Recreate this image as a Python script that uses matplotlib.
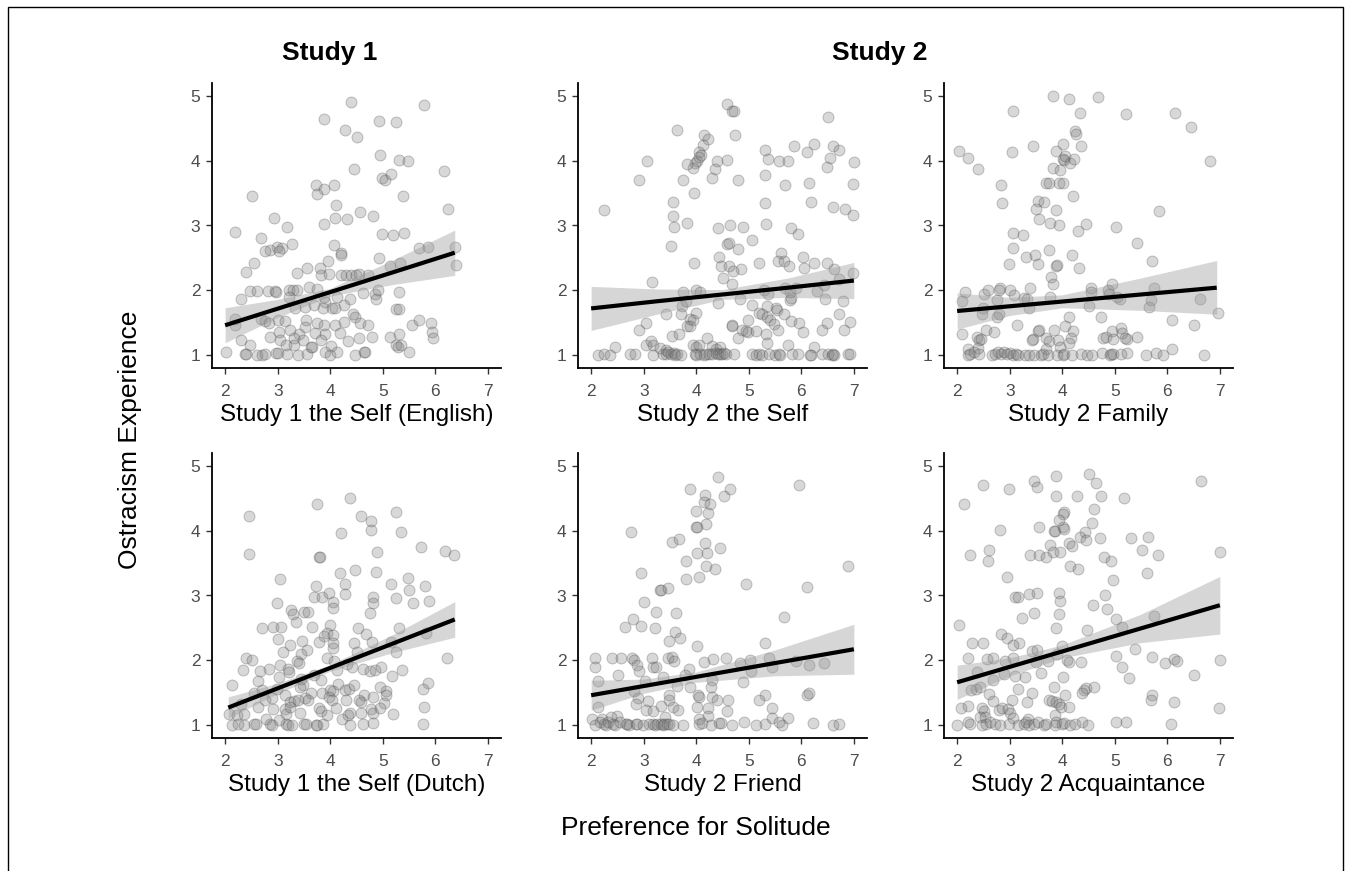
import numpy as np
import matplotlib
matplotlib.use("Agg")
import matplotlib.pyplot as plt
from matplotlib.patches import Rectangle

plt.rcParams['font.family'] = ['Liberation Sans', 'DejaVu Sans']

# ---- data ----
labels = ["Study 1 the Self (English)", "Study 2 the Self", "Study 2 Family",
          "Study 1 the Self (Dutch)", "Study 2 Friend", "Study 2 Acquaintance"]

# panel 1: Study 1 the Self (English)
p1_x = [4.39, 5.79, 3.89, 4.29, 4.92, 5.26, 4.51, 4.94, 5.30, 5.48, 6.17, 4.45, 4.98, 5.04, 5.16,
        3.72, 3.89, 4.07, 3.74, 5.39, 2.51, 4.11, 6.24, 4.56, 2.93, 4.10, 4.31, 4.82, 3.89, 3.18,
        2.19, 4.99, 5.19, 5.41, 2.69, 3.27, 4.07, 2.99, 2.85, 2.75, 3.09, 3.02, 5.68, 5.86, 6.38,
        6.39, 4.20, 4.20, 4.92, 2.54, 3.95, 5.13, 5.32, 3.80, 3.55, 3.37, 2.39, 3.82, 3.98, 4.20,
        4.30, 4.39, 4.49, 4.54, 4.72, 2.47, 2.61, 2.81, 2.94, 2.97, 3.22, 3.30, 3.36, 3.60, 3.75,
        4.63, 4.85, 4.87, 4.90, 5.31, 2.31, 3.22, 3.89, 4.13, 4.38, 3.91, 4.26, 3.52, 3.33, 3.70,
        3.86, 4.03, 4.10, 4.43, 5.25, 5.31, 4.47, 4.56, 2.19, 2.68, 2.75, 2.84, 3.00, 3.13, 3.53,
        3.74, 4.27, 4.71, 5.55, 5.69, 5.91, 2.18, 3.24, 3.52, 3.89, 4.10, 3.03, 3.40, 3.71, 3.91,
        4.18, 2.85, 3.31, 4.54, 4.80, 5.14, 5.31, 5.93, 5.96, 2.30, 3.04, 3.49, 3.82, 4.33, 2.48,
        3.16, 3.32, 3.63, 3.66, 4.01, 5.25, 5.29, 5.35, 2.02, 2.38, 2.40, 2.61, 2.71, 2.76, 2.97,
        3.00, 3.18, 3.38, 3.55, 3.91, 4.00, 4.13, 4.48, 4.65, 4.67, 5.49]
p1_y = [4.91, 4.86, 4.65, 4.48, 4.62, 4.60, 4.36, 4.09, 4.01, 4.00, 3.84, 3.87, 3.74, 3.71, 3.79,
        3.63, 3.57, 3.63, 3.49, 3.45, 3.46, 3.32, 3.26, 3.21, 3.11, 3.12, 3.10, 3.14, 3.02, 2.97,
        2.90, 2.87, 2.85, 2.89, 2.80, 2.72, 2.70, 2.67, 2.62, 2.60, 2.66, 2.61, 2.65, 2.67, 2.67,
        2.39, 2.58, 2.54, 2.50, 2.42, 2.45, 2.37, 2.42, 2.35, 2.35, 2.26, 2.28, 2.23, 2.25, 2.24,
        2.24, 2.24, 2.24, 2.25, 2.23, 1.99, 1.99, 1.99, 1.99, 1.97, 2.00, 2.01, 2.00, 2.05, 2.02,
        1.96, 1.95, 1.87, 2.01, 1.97, 1.87, 1.89, 1.90, 1.90, 1.87, 1.82, 1.78, 1.74, 1.73, 1.77,
        1.73, 1.73, 1.73, 1.64, 1.71, 1.71, 1.59, 1.49, 1.55, 1.55, 1.53, 1.50, 1.54, 1.53, 1.54,
        1.50, 1.51, 1.46, 1.46, 1.54, 1.50, 1.46, 1.38, 1.43, 1.47, 1.46, 1.36, 1.33, 1.34, 1.33,
        1.34, 1.28, 1.27, 1.27, 1.28, 1.28, 1.32, 1.35, 1.26, 1.23, 1.23, 1.23, 1.23, 1.21, 1.16,
        1.15, 1.15, 1.13, 1.13, 1.14, 1.15, 1.13, 1.15, 1.04, 1.02, 1.02, 1.00, 1.00, 1.02, 1.03,
        1.03, 1.01, 1.00, 1.02, 1.04, 1.00, 1.04, 1.00, 1.04, 1.04, 1.04]

# panel 2: Study 2 the Self
p2_x = [4.58, 4.68, 4.71, 6.50, 3.64, 4.15, 4.22, 4.12, 4.06, 4.10, 4.73, 5.30, 5.86, 6.24, 6.10,
        6.60, 6.71, 6.55, 6.48, 4.01, 3.98, 4.05, 3.93, 3.82, 3.06, 4.39, 4.59, 5.36, 5.58, 5.74,
        7.00, 4.36, 4.30, 3.74, 4.79, 2.92, 5.30, 5.69, 6.15, 6.99, 3.96, 3.56, 5.30, 6.19, 6.61,
        6.84, 6.99, 2.25, 3.55, 3.57, 3.82, 4.42, 4.65, 4.89, 5.32, 5.80, 5.93, 5.07, 4.59, 4.62,
        4.79, 3.52, 5.61, 4.43, 6.04, 5.56, 5.67, 5.77, 3.95, 5.20, 6.24, 6.49, 4.48, 4.63, 4.85,
        4.70, 6.06, 6.63, 6.98, 4.51, 3.16, 4.68, 6.72, 4.00, 4.07, 3.74, 5.29, 5.36, 5.69, 5.79,
        5.90, 6.29, 6.44, 5.78, 5.81, 4.84, 6.45, 6.80, 4.42, 3.72, 3.80, 5.07, 5.34, 5.51, 5.54,
        5.67, 3.42, 3.71, 5.19, 5.26, 5.34, 5.41, 5.48, 6.71, 3.99, 3.89, 3.93, 3.82, 3.88, 3.05,
        4.99, 5.81, 5.95, 6.48, 6.92, 4.68, 4.69, 2.92, 3.54, 3.67, 4.20, 4.87, 4.94, 4.98, 5.14,
        5.55, 6.04, 6.39, 6.81, 4.80, 5.33, 5.35, 5.74, 6.24, 2.46, 3.05, 3.13, 3.18, 3.31, 3.43,
        3.94, 3.99, 4.05, 4.30, 4.37, 4.45,
        2.14, 2.25, 2.36, 2.74, 2.83, 3.17, 3.36, 3.42, 3.46, 3.52, 3.57, 3.60, 3.64, 3.71, 3.97,
        4.00, 4.08, 4.15, 4.19, 4.24, 4.30, 4.37, 4.42, 4.46, 4.49, 4.53, 4.56, 4.72, 5.06, 5.13,
        5.20, 5.25, 5.38, 5.50, 5.58, 5.60, 5.82, 5.93, 6.16, 6.19, 6.39, 6.50, 6.58, 6.61, 6.63,
        6.89, 6.92]
p2_y = [4.87, 4.76, 4.76, 4.67, 4.47, 4.40, 4.33, 4.25, 4.13, 4.09, 4.40, 4.16, 4.23, 4.26, 4.14,
        4.22, 4.17, 4.04, 3.90, 4.00, 3.96, 4.05, 3.89, 3.95, 4.00, 3.99, 4.01, 4.03, 3.99, 3.99,
        3.98, 3.87, 3.74, 3.71, 3.71, 3.70, 3.78, 3.62, 3.66, 3.64, 3.50, 3.37, 3.34, 3.37, 3.29,
        3.25, 3.16, 3.24, 3.15, 2.97, 3.04, 2.96, 3.01, 2.97, 3.02, 2.96, 2.87, 2.78, 2.72, 2.73,
        2.63, 2.68, 2.57, 2.52, 2.52, 2.45, 2.45, 2.38, 2.42, 2.42, 2.42, 2.42, 2.38, 2.37, 2.33,
        2.29, 2.35, 2.33, 2.26, 2.19, 2.13, 2.09, 2.17, 2.00, 1.98, 1.98, 2.01, 1.95, 2.03, 1.98,
        2.03, 1.99, 2.08, 1.85, 1.88, 1.86, 1.86, 1.84, 1.81, 1.76, 1.83, 1.78, 1.76, 1.73, 1.69,
        1.64, 1.64, 1.64, 1.65, 1.64, 1.58, 1.54, 1.48, 1.64, 1.65, 1.56, 1.54, 1.45, 1.45, 1.50,
        1.54, 1.53, 1.50, 1.49, 1.51, 1.47, 1.45, 1.38, 1.29, 1.32, 1.26, 1.38, 1.37, 1.35, 1.37,
        1.39, 1.36, 1.39, 1.38, 1.26, 1.32, 1.19, 1.16, 1.13, 1.13, 1.15, 1.22, 1.15, 1.11, 1.08,
        1.15, 1.12, 1.15, 1.14, 1.10, 1.13,
        1.00, 1.02, 1.00, 1.02, 1.02, 1.00, 1.02, 1.01, 1.04, 1.02, 1.03, 1.00, 1.02, 1.00, 1.02,
        1.00, 1.02, 1.00, 1.02, 1.01, 1.02, 1.03, 1.02, 1.01, 1.02, 1.03, 1.02, 1.02, 1.02, 1.00,
        1.02, 1.00, 1.02, 1.00, 1.02, 1.00, 1.02, 1.02, 1.00, 1.00, 1.02, 1.02, 1.00, 1.02, 1.00,
        1.02, 1.02]

# panel 3: Study 2 Family
p3_x = [3.82, 4.13, 4.68, 3.07, 4.34, 5.21, 6.15, 6.46, 4.24, 4.27, 2.03, 2.20, 2.39, 3.05, 3.44,
        3.89, 4.01, 4.35, 4.01, 4.03, 4.06, 4.14, 4.22, 6.81, 3.83, 3.96, 2.83, 2.85, 3.70, 3.74,
        3.93, 4.02, 4.21, 3.54, 3.51, 3.65, 3.88, 5.85, 3.56, 3.77, 3.94, 4.46, 5.03, 4.30, 3.07,
        3.26, 5.42, 3.07, 3.31, 3.48, 3.75, 4.19, 3.54, 2.99, 3.88, 3.90, 4.31, 5.71, 3.79, 3.83,
        2.15, 2.51, 2.58, 2.81, 2.80, 3.01, 3.08, 3.28, 3.33, 3.38, 3.76, 4.55, 4.54, 4.51, 4.87,
        4.89, 4.95, 5.04, 5.09, 5.74, 5.69, 5.66, 6.62, 6.96, 2.10, 2.76, 2.49, 2.48, 2.75, 2.79,
        3.37, 4.13, 4.74, 6.08, 6.51, 3.13, 4.05, 2.55, 2.71, 3.53, 3.56, 3.84, 4.21, 4.94, 5.12,
        5.14, 5.23, 5.19, 5.43, 2.09, 2.38, 2.42, 2.45, 3.44, 3.42, 3.69, 3.75, 3.92, 4.16, 4.13,
        4.78, 4.83, 4.97, 6.08, 2.20, 2.40, 3.69, 3.95,
        2.21, 2.25, 2.33, 2.42, 2.66, 2.73, 2.78, 2.83, 2.90, 2.95, 3.01, 3.07, 3.12, 3.16, 3.29,
        3.37, 3.46, 3.59, 3.64, 3.72, 3.91, 4.02, 4.03, 4.19, 4.35, 4.47, 4.57, 4.76, 4.90, 4.92,
        4.97, 5.11, 5.24, 5.59, 5.78, 5.91, 6.70]
p3_y = [5.00, 4.96, 4.99, 4.77, 4.74, 4.72, 4.73, 4.52, 4.46, 4.41, 4.15, 4.04, 3.87, 4.13, 4.22,
        4.15, 4.26, 4.22, 4.03, 4.01, 4.08, 3.97, 4.02, 4.00, 3.89, 3.85, 3.63, 3.34, 3.66, 3.66,
        3.66, 3.66, 3.46, 3.38, 3.26, 3.37, 3.24, 3.22, 3.10, 3.04, 3.01, 3.03, 2.97, 2.91, 2.88,
        2.86, 2.73, 2.66, 2.51, 2.54, 2.62, 2.54, 2.41, 2.40, 2.37, 2.39, 2.35, 2.45, 2.21, 2.10,
        1.97, 1.95, 2.01, 2.03, 2.00, 2.00, 1.92, 1.88, 1.87, 2.03, 1.89, 2.03, 1.98, 1.76, 2.00,
        1.95, 2.09, 1.89, 1.87, 2.04, 1.85, 1.74, 1.87, 1.65, 1.84, 1.85, 1.72, 1.63, 1.58, 1.64,
        1.73, 1.59, 1.59, 1.54, 1.46, 1.47, 1.45, 1.38, 1.36, 1.37, 1.38, 1.39, 1.37, 1.37, 1.41,
        1.34, 1.24, 1.26, 1.28, 1.32, 1.28, 1.23, 1.24, 1.24, 1.23, 1.26, 1.21, 1.23, 1.26, 1.19,
        1.26, 1.28, 1.24, 1.10, 1.09, 1.11, 1.09, 1.13,
        1.00, 1.02, 1.04, 1.02, 1.00, 1.02, 1.04, 1.02, 1.04, 1.02, 1.03, 1.00, 1.02, 1.00, 1.00,
        1.00, 1.00, 1.00, 1.02, 1.00, 1.00, 1.00, 1.02, 1.00, 1.02, 1.00, 1.00, 1.03, 1.00, 1.02,
        1.02, 1.02, 1.03, 1.00, 1.03, 1.00, 1.00]

# panel 4: Study 1 the Self (Dutch)
p4_x = [4.37, 3.74, 2.46, 4.58, 5.25, 4.78, 4.78, 4.20, 5.35, 2.45, 3.78, 3.81, 4.89, 5.73, 6.18,
        6.36, 4.18, 4.47, 4.87, 3.04, 5.48, 3.73, 4.29, 5.16, 5.80, 5.49, 3.70, 3.85, 3.98, 4.05,
        4.05, 4.29, 4.82, 4.81, 2.98, 5.26, 5.57, 5.88, 3.26, 3.30, 3.51, 3.57, 4.76, 3.34, 2.71,
        2.92, 3.07, 3.65, 3.99, 4.53, 5.30, 3.01, 3.93, 3.88, 4.05, 4.68, 5.82, 3.46, 3.79, 4.05,
        4.05, 4.46, 4.80, 3.24, 3.55, 5.16, 3.10, 3.44, 4.51, 5.25, 2.39, 2.51, 2.84, 2.34, 2.67,
        3.04, 3.20, 3.22, 3.36, 3.41, 3.93, 4.08, 4.13, 4.31, 4.41, 4.63, 4.76, 4.85, 4.96, 5.36,
        6.22, 2.13, 2.63, 3.03, 3.45, 3.48, 3.43, 3.70, 3.82, 4.14, 4.94, 5.18, 5.87, 5.76, 2.55,
        2.70, 2.89, 2.98, 3.14, 3.63, 3.84, 3.99, 4.05, 4.29, 4.36, 4.46, 5.06, 5.07, 4.65, 4.82,
        2.76, 3.24, 3.32, 3.39, 3.52, 3.57, 3.98, 4.03, 4.30, 4.55, 4.58, 5.03, 2.31, 2.63, 2.92,
        3.13, 3.16, 3.24, 3.43, 3.79, 3.83, 4.11, 4.38, 4.59, 4.77, 4.81, 4.95, 5.19, 5.79, 2.07,
        2.23, 2.35, 2.78, 3.02, 3.94, 4.23, 4.33,
        2.14, 2.25, 2.36, 2.54, 2.58, 2.86, 2.90, 3.16, 3.19, 3.28, 3.51, 3.53, 3.72, 3.75, 3.86,
        4.37, 4.62, 4.82, 5.76]
p4_y = [4.51, 4.41, 4.23, 4.23, 4.29, 4.15, 4.01, 3.96, 3.98, 3.64, 3.60, 3.60, 3.67, 3.75, 3.68,
        3.62, 3.35, 3.39, 3.37, 3.25, 3.27, 3.14, 3.17, 3.17, 3.14, 3.08, 2.97, 2.97, 3.04, 2.90,
        2.81, 3.02, 2.97, 2.88, 2.88, 2.96, 2.89, 2.91, 2.77, 2.72, 2.74, 2.74, 2.73, 2.59, 2.50,
        2.52, 2.51, 2.51, 2.54, 2.50, 2.50, 2.33, 2.42, 2.38, 2.39, 2.41, 2.42, 2.29, 2.28, 2.27,
        2.19, 2.27, 2.28, 2.23, 2.16, 2.28, 2.12, 2.09, 2.13, 2.13, 2.04, 2.00, 1.87, 1.85, 1.84,
        1.92, 1.86, 1.82, 1.99, 1.96, 2.04, 1.99, 1.85, 1.95, 1.90, 1.86, 1.84, 1.85, 1.89, 1.85,
        2.04, 1.62, 1.68, 1.74, 1.71, 1.62, 1.59, 1.77, 1.69, 1.64, 1.59, 1.75, 1.65, 1.55, 1.50,
        1.54, 1.41, 1.56, 1.46, 1.50, 1.49, 1.54, 1.53, 1.54, 1.55, 1.62, 1.53, 1.47, 1.46, 1.44,
        1.39, 1.36, 1.37, 1.39, 1.41, 1.38, 1.44, 1.39, 1.38, 1.38, 1.36, 1.34, 1.33, 1.28, 1.24,
        1.24, 1.17, 1.28, 1.18, 1.27, 1.22, 1.26, 1.18, 1.18, 1.24, 1.18, 1.26, 1.17, 1.28, 1.17,
        1.15, 1.17, 1.10, 1.08, 1.15, 1.09, 1.15,
        1.00, 1.02, 1.00, 1.02, 1.01, 1.02, 1.00, 1.02, 1.00, 1.00, 1.02, 1.02, 1.00, 1.00, 1.02,
        1.00, 1.02, 1.03, 1.02]

# panel 5: Study 2 Friend
p5_x = [4.42, 3.88, 4.64, 4.53, 4.17, 4.14, 4.26, 4.22, 5.95, 4.00, 4.18, 3.99, 4.01, 2.75, 3.54,
        3.68, 4.16, 4.45, 4.01, 4.21, 3.81, 4.18, 4.36, 6.89, 2.95, 3.81, 4.06, 4.94, 3.31, 3.33,
        3.47, 6.11, 3.01, 3.24, 3.62, 5.67, 2.80, 2.65, 2.95, 3.21, 3.59, 3.69, 3.48, 4.01, 5.31,
        2.08, 2.07, 2.39, 2.57, 2.77, 2.81, 3.15, 3.17, 3.24, 3.46, 3.53, 3.57, 2.88, 2.92, 3.86,
        4.15, 4.32, 4.57, 4.83, 5.02, 5.05, 5.38, 5.45, 5.90, 6.15, 6.43, 2.13, 2.52, 3.02, 3.37,
        3.63, 3.79, 3.88, 4.30, 4.28, 4.89, 2.81, 2.89, 2.85, 3.48, 3.48, 4.03, 4.06, 4.30, 4.39,
        4.61, 5.30, 5.19, 6.11, 6.15, 2.14, 3.08, 3.05, 3.18, 3.33, 3.55, 3.65, 4.01, 4.22, 4.58,
        5.44, 5.74, 5.45, 4.22, 2.49, 2.37, 2.02, 2.20, 3.40, 4.06,
        2.08, 2.16, 2.24, 2.28, 2.33, 2.42, 2.46, 2.54, 2.66, 2.69, 2.73, 2.85, 2.88, 2.98, 3.10,
        3.17, 3.22, 3.26, 3.33, 3.36, 3.39, 3.45, 3.48, 3.55, 3.74, 4.06, 4.11, 4.29, 4.43, 4.48,
        4.68, 4.90, 5.13, 5.30, 5.57, 5.63, 6.23, 6.60, 6.72]
p5_y = [4.83, 4.65, 4.65, 4.53, 4.55, 4.45, 4.41, 4.28, 4.70, 4.31, 4.10, 4.05, 4.05, 3.98, 3.83,
        3.87, 3.81, 3.74, 3.65, 3.65, 3.54, 3.46, 3.41, 3.46, 3.35, 3.26, 3.28, 3.18, 3.09, 3.09,
        3.12, 3.13, 2.90, 2.74, 2.73, 2.67, 2.64, 2.52, 2.53, 2.50, 2.44, 2.35, 2.30, 2.22, 2.27,
        2.04, 1.89, 2.03, 2.03, 2.03, 2.00, 2.04, 1.89, 1.89, 2.04, 2.05, 1.99, 1.92, 1.84, 1.87,
        1.98, 2.02, 2.03, 1.96, 2.00, 1.84, 2.03, 1.90, 1.99, 1.92, 1.96, 1.68, 1.77, 1.68, 1.74,
        1.61, 1.78, 1.59, 1.69, 1.59, 1.67, 1.53, 1.41, 1.33, 1.46, 1.39, 1.47, 1.43, 1.43, 1.39,
        1.39, 1.46, 1.38, 1.47, 1.49, 1.28, 1.37, 1.23, 1.21, 1.29, 1.28, 1.23, 1.28, 1.26, 1.22,
        1.26, 1.11, 1.11, 1.14, 1.14, 1.13, 1.10, 1.09, 1.13, 1.09,
        1.00, 1.04, 1.02, 1.00, 1.04, 1.02, 1.00, 1.04, 1.02, 1.02, 1.00, 1.02, 1.02, 1.00, 1.02,
        1.02, 1.00, 1.02, 1.02, 1.00, 1.02, 1.02, 1.02, 1.00, 1.00, 1.02, 1.03, 1.00, 1.03, 1.03,
        1.00, 1.04, 1.00, 1.02, 1.04, 1.00, 1.03, 1.00, 1.02]

# panel 6: Study 2 Acquaintance
p6_x = [4.51, 3.88, 2.50, 2.98, 3.46, 3.52, 4.64, 6.64, 4.28, 3.88, 4.73, 5.18, 2.14, 4.61, 4.04,
        4.01, 3.93, 4.56, 3.84, 3.86, 4.02, 4.03, 4.43, 3.55, 2.82, 4.34, 4.46, 4.71, 5.31, 5.64,
        4.13, 4.19, 3.77, 2.24, 2.61, 2.58, 3.39, 3.55, 3.70, 3.82, 3.96, 5.52, 5.82, 4.80, 4.93,
        4.15, 4.30, 2.94, 5.62, 4.96, 7.00, 3.10, 3.16, 3.36, 3.52, 3.94, 3.96, 4.82, 4.58, 3.46,
        3.94, 4.86, 3.24, 3.88, 5.02, 5.13, 5.74, 2.03, 4.47, 2.29, 2.49, 2.83, 2.94, 3.17, 3.07,
        3.43, 3.52, 4.00, 3.91, 5.39, 5.02, 2.21, 2.56, 2.69, 2.92, 3.07, 3.50, 3.72, 4.10, 4.12,
        4.35, 5.70, 5.95, 6.13, 6.19, 7.00, 5.13, 2.37, 2.90, 3.10, 3.30, 3.60, 4.01, 5.27, 6.51,
        2.69, 2.26, 2.35, 2.44, 2.60, 3.15, 3.84, 3.43, 4.42, 4.46, 4.61, 4.05, 4.38, 5.70, 5.68,
        2.69, 3.05, 3.33, 3.74, 3.80, 3.88, 3.93, 3.97, 4.13, 6.12, 6.99, 2.08, 2.20, 2.47, 2.51,
        2.80, 2.86, 2.96, 3.01, 3.87, 2.43, 2.53, 3.06, 3.34,
        2.00, 2.21, 2.25, 2.47, 2.55, 2.63, 2.73, 2.81, 2.99, 3.15, 3.28, 3.31, 3.37, 3.46, 3.54,
        3.65, 3.69, 3.86, 3.88, 4.00, 4.04, 4.15, 4.24, 4.38, 4.49, 5.02, 5.21, 6.07]
p6_y = [4.87, 4.85, 4.71, 4.64, 4.76, 4.67, 4.73, 4.76, 4.54, 4.53, 4.54, 4.50, 4.42, 4.34, 4.29,
        4.26, 4.17, 4.12, 4.00, 3.99, 4.05, 4.02, 3.98, 4.05, 4.01, 3.91, 3.85, 3.88, 3.89, 3.90,
        3.81, 3.77, 3.78, 3.63, 3.71, 3.54, 3.62, 3.63, 3.59, 3.67, 3.67, 3.71, 3.63, 3.59, 3.54,
        3.46, 3.41, 3.28, 3.34, 3.24, 3.67, 2.98, 2.98, 3.02, 3.04, 3.04, 2.91, 3.00, 2.86, 2.73,
        2.72, 2.79, 2.66, 2.50, 2.63, 2.51, 2.68, 2.54, 2.46, 2.27, 2.27, 2.41, 2.35, 2.27, 2.23,
        2.14, 2.16, 2.22, 2.10, 2.17, 2.06, 2.04, 2.02, 2.04, 1.99, 2.03, 1.97, 1.99, 2.00, 1.98,
        1.98, 2.05, 1.96, 2.02, 1.99, 2.01, 1.89, 1.82, 1.79, 1.76, 1.74, 1.80, 1.74, 1.72, 1.78,
        1.69, 1.54, 1.55, 1.59, 1.48, 1.55, 1.58, 1.50, 1.54, 1.57, 1.58, 1.46, 1.49, 1.47, 1.39,
        1.37, 1.39, 1.36, 1.38, 1.37, 1.35, 1.32, 1.28, 1.28, 1.35, 1.27, 1.27, 1.29, 1.26, 1.21,
        1.23, 1.26, 1.24, 1.18, 1.16, 1.13, 1.12, 1.11, 1.10,
        1.00, 1.04, 1.02, 1.00, 1.02, 1.04, 1.02, 1.00, 1.02, 1.00, 1.02, 1.04, 1.00, 1.02, 1.04,
        1.00, 1.02, 1.00, 1.04, 1.02, 1.03, 1.00, 1.02, 1.04, 1.00, 1.04, 1.04, 1.02]

# fitted line and 95% band, read at a few x positions
p1_fit_x = [2.0, 3.0, 4.0, 5.2, 6.37]
p1_fit_y = [1.46, 1.716, 1.972, 2.279, 2.58]
p1_fit_lo = [1.19, 1.58, 1.91, 2.09, 2.23]
p1_fit_hi = [1.73, 1.86, 2.03, 2.47, 2.93]

p2_fit_x = [2.0, 3.25, 4.5, 5.75, 7.0]
p2_fit_y = [1.72, 1.83, 1.935, 2.04, 2.15]
p2_fit_lo = [1.38, 1.63, 1.86, 1.89, 1.87]
p2_fit_hi = [2.06, 2.02, 2.01, 2.19, 2.43]

p3_fit_x = [2.0, 3.0, 4.0, 5.5, 6.94]
p3_fit_y = [1.68, 1.753, 1.826, 1.935, 2.04]
p3_fit_lo = [1.40, 1.61, 1.73, 1.69, 1.63]
p3_fit_hi = [1.96, 1.89, 1.93, 2.19, 2.46]

p4_fit_x = [2.06, 3.0, 4.0, 5.2, 6.37]
p4_fit_y = [1.27, 1.567, 1.882, 2.261, 2.63]
p4_fit_lo = [1.105, 1.487, 1.832, 2.121, 2.355]
p4_fit_hi = [1.435, 1.647, 1.932, 2.401, 2.905]

p5_fit_x = [2.0, 3.0, 4.0, 5.5, 7.0]
p5_fit_y = [1.46, 1.602, 1.744, 1.957, 2.17]
p5_fit_lo = [1.23, 1.49, 1.66, 1.76, 1.785]
p5_fit_hi = [1.69, 1.71, 1.82, 2.16, 2.555]

p6_fit_x = [2.0, 3.0, 4.0, 5.5, 7.0]
p6_fit_y = [1.66, 1.898, 2.136, 2.493, 2.85]
p6_fit_lo = [1.395, 1.758, 2.036, 2.273, 2.405]
p6_fit_hi = [1.925, 2.038, 2.236, 2.713, 3.295]

panels = [
    (p1_x, p1_y, p1_fit_x, p1_fit_y, p1_fit_lo, p1_fit_hi),
    (p2_x, p2_y, p2_fit_x, p2_fit_y, p2_fit_lo, p2_fit_hi),
    (p3_x, p3_y, p3_fit_x, p3_fit_y, p3_fit_lo, p3_fit_hi),
    (p4_x, p4_y, p4_fit_x, p4_fit_y, p4_fit_lo, p4_fit_hi),
    (p5_x, p5_y, p5_fit_x, p5_fit_y, p5_fit_lo, p5_fit_hi),
    (p6_x, p6_y, p6_fit_x, p6_fit_y, p6_fit_lo, p6_fit_hi),
]

W, H = 1345, 871
fig = plt.figure(figsize=(W / 100, H / 100), dpi=100)

col_left = [212, 578, 944]
row_top = [83, 453]
ax_w, ax_h = 289, 285

for i, (px, py, fx, fy, flo, fhi) in enumerate(panels):
    r, c = divmod(i, 3)
    l = col_left[c]
    b = row_top[r] + ax_h
    ax = fig.add_axes([l / W, 1 - b / H, ax_w / W, ax_h / H])
    ax.scatter(px, py, s=62, c='#808080', alpha=0.3, edgecolors='#404040', linewidths=0.7, zorder=2)
    ax.fill_between(fx, flo, fhi, color='#999999', alpha=0.4, lw=0, zorder=3)
    ax.plot(fx, fy, color='black', lw=3, zorder=4, solid_capstyle='butt')
    ax.set_xlim(1.75, 7.25)
    ax.set_ylim(0.8, 5.2)
    ax.set_xticks([2, 3, 4, 5, 6, 7])
    ax.set_yticks([1, 2, 3, 4, 5])
    for s in ['top', 'right']:
        ax.spines[s].set_visible(False)
    for s in ['left', 'bottom']:
        ax.spines[s].set_linewidth(1.3)
    ax.tick_params(length=4.3, width=1, color='#333333', labelsize=12.5, labelcolor='#4d4d4d')
    ax.tick_params(axis='x', pad=7)
    ax.tick_params(axis='y', pad=4)
    ax.set_xlabel(labels[i], fontsize=17.5, color='black', labelpad=4)

fig.text(330 / W, 1 - 53 / H, "Study 1", fontsize=19, fontweight='bold', ha='center', va='center')
fig.text(880 / W, 1 - 53 / H, "Study 2", fontsize=19, fontweight='bold', ha='center', va='center')
fig.text(130 / W, 1 - 440 / H, "Ostracism Experience", fontsize=19, rotation=90, ha='center', va='center')
fig.text(696 / W, 1 - 828 / H, "Preference for Solitude", fontsize=19, ha='center', va='center')

fig.patches.append(Rectangle((8 / W, -0.01), 1335 / W, 1 - 7 / H + 0.01, transform=fig.transFigure,
                             fill=False, edgecolor='black', lw=1))

fig.savefig("out.png", dpi=100)
